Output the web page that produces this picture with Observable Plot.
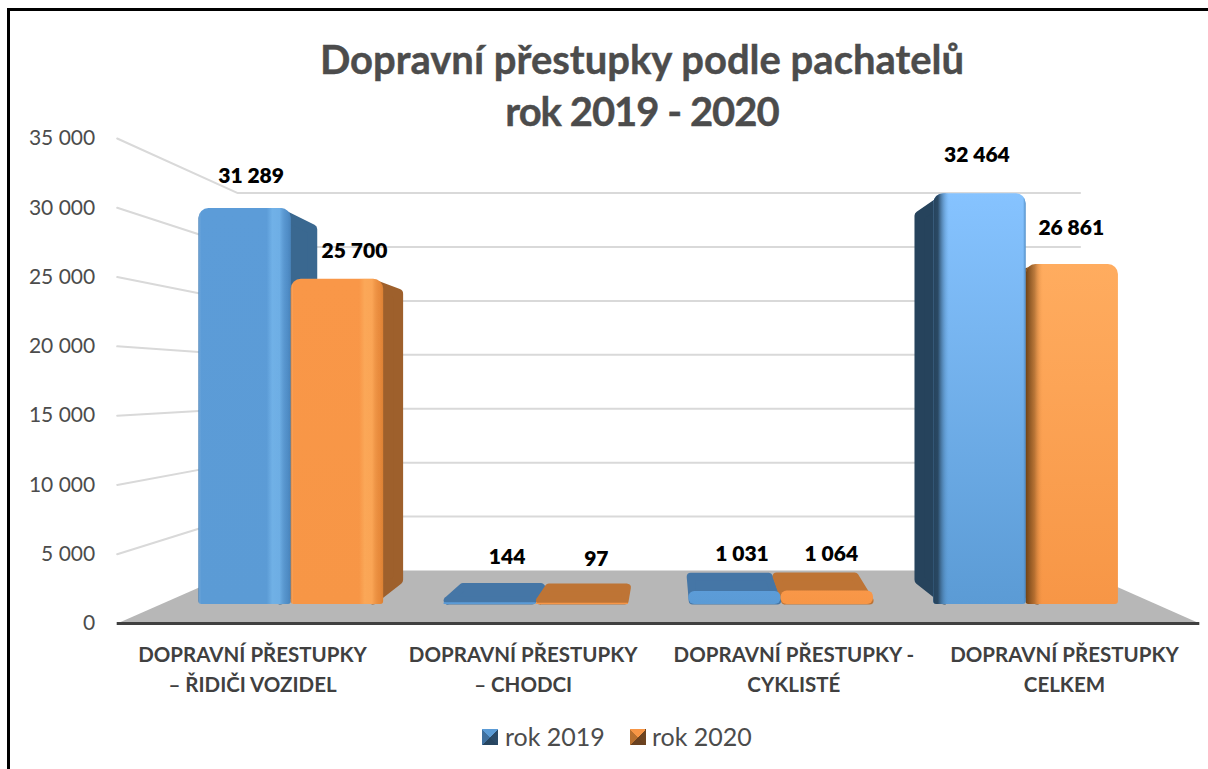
<!DOCTYPE html>
<html lang="cs">
<head>
<meta charset="utf-8">
<script src="https://cdn.jsdelivr.net/npm/d3@7"></script>
<script src="https://cdn.jsdelivr.net/npm/@observablehq/plot@0.6"></script>
<style>
  html, body { margin: 0; padding: 0; background: #fff; width: 1208px; height: 769px; overflow: hidden; font-family: Lato, sans-serif; }
  #frame { position: absolute; left: 7px; top: 8px; width: 1300px; height: 900px; border-left: 3px solid #000; border-top: 3px solid #000; }
  #title { position: absolute; left: 0; top: 33px; width: 1284px; text-align: center; font-weight: 700; font-size: 40px; line-height: 52px; color: #4c4c4c; -webkit-text-stroke: 0.4px #4c4c4c; }
  #title span { letter-spacing: -1px; }
  #chart { position: absolute; left: 0; top: 125px; }
  #legend { position: absolute; left: 0; top: 718px; width: 1208px; height: 36px; font-size: 25px; color: #4c4c4c; }
  #legend span { position: absolute; top: 0; line-height: 36px; white-space: nowrap; }
  #legend i { position: absolute; top: 11px; width: 16px; height: 16px; }
</style>
</head>
<body>
<div id="frame"></div>
<div id="title">Dopravní přestupky podle pachatelů<br><span>rok 2019 - 2020</span></div>
<div id="chart"></div>
<div id="legend">
  <i style="left:482px;background:conic-gradient(from 45deg,#2a4a68 0 25%,#274560 25% 50%,#3f6f9e 50% 75%,#5b9bd5 75%)"></i><span style="left:505px">rok 2019</span>
  <i style="left:630px;background:conic-gradient(from 45deg,#6e4420 0 25%,#6a4120 25% 50%,#b8702f 50% 75%,#f79646 75%)"></i><span style="left:652px">rok 2020</span>
</div>
<script>
const categories = ["DOPRAVNÍ PŘESTUPKY\n– ŘIDIČI VOZIDEL", "DOPRAVNÍ PŘESTUPKY\n– CHODCI", "DOPRAVNÍ PŘESTUPKY -\nCYKLISTÉ", "DOPRAVNÍ PŘESTUPKY\nCELKEM"];
const rok2019 = [31289, 144, 1031, 32464];
const rok2020 = [25700, 97, 1064, 26861];
const valueTicks = [0, 5000, 10000, 15000, 20000, 25000, 30000, 35000];

const fmt = (v) => d3.format(",")(v).replace(/,/g, " ");

// Perspective of the 3-D chart, in data units: the value axis is the front plane;
// bars and back wall recede toward one vanishing point.
const VX = 2.007, VY_WALL = 17247, VY_BAR = 15810;
const barSX = 0.905, barSY = 0.9133, wallS = 0.778, depthSX = 0.93, depthSY = 0.91;
const barWidth = 0.377;
const wall = (x, v) => ({x: VX + (x - VX) * wallS, y: VY_WALL + (v - VY_WALL) * wallS});
const front = (x, v) => ({x: VX + (x - VX) * barSX, y: VY_BAR + (v - VY_BAR) * barSY});
const back = (p) => ({x: VX + (p.x - VX) * depthSX, y: VY_WALL + (p.y - VY_WALL) * depthSY});

const bars = categories.flatMap((c, i) => [
  {i, s: 0, v: rok2019[i], a: i + 0.5 - barWidth, b: i + 0.5},
  {i, s: 1, v: rok2020[i], a: i + 0.5, b: i + 0.5 + barWidth}
]);

const topColor = ["#4576a6", "#be7435"];
const sideColor = (d) => d.i === 3 ? ["#26435c", "#7a4a1e"][d.s] : ["#3a6890", "#9e602c"][d.s];

function poly(points, fill, strokeWidth) {
  return Plot.line([...points, points[0]], {x: "x", y: "y", fill, stroke: fill, strokeWidth, strokeLinejoin: "round", curve: "linear"});
}

// Round corners come from a thick round-joined stroke, so the outlines are pulled in by half of it.
const padX = 0.018, padY = 360;
const faceMarks = bars.flatMap((d) => {
  const fa = front(d.a, 0), fb = front(d.b, 0), ta = front(d.a, d.v), tb = front(d.b, d.v);
  if (d.i === 1 || d.i === 2) {
    const px = padX * 0.8, py = padY * 0.8;
    const bta = back({x: ta.x, y: ta.y}), btb = back({x: tb.x, y: tb.y});
    return [poly([
      {x: ta.x + px, y: fa.y + py},
      {x: tb.x - px, y: fb.y + py},
      {x: btb.x - px, y: btb.y - py},
      {x: bta.x + px, y: bta.y - py}
    ], topColor[d.s], 8)];
  }
  const right = d.i === 0;
  const [et, eb] = right ? [tb, fb] : [ta, fa];
  const inward = right ? -1 : 1;
  const bt = back(et), bb = back(eb);
  return [poly([
    {x: et.x + inward * 0.04, y: et.y - padY},
    {x: bt.x + inward * padX, y: bt.y - padY},
    {x: bb.x + inward * padX, y: bb.y + padY},
    {x: eb.x + inward * 0.04, y: eb.y + padY}
  ], sideColor(d), 10)];
});

const rectOf = (d) => {
  const p = front(d.a, 0), q = front(d.b, d.v);
  return {x1: p.x, x2: q.x, y1: p.y, y2: q.y};
};
// y1 is the foot of the bar here, y2 its head.
const frontMark = (filter, fill, rTop = 10, rBottom = 3) => Plot.rect(bars.filter(filter).map(rectOf), {
  x1: "x1", x2: "x2", y1: "y1", y2: "y2", fill,
  rx1y2: rTop, rx2y2: rTop, rx1y1: rBottom, rx2y1: rBottom
});

const defs = () => {
  const el = document.createElementNS("http://www.w3.org/2000/svg", "defs");
  const h = (id, stops) => `<linearGradient id="${id}" x1="0" x2="1" y1="0" y2="0">${stops.map(([o, c, a]) => `<stop offset="${o}" stop-color="${c}" stop-opacity="${a}"/>`).join("")}</linearGradient>`;
  const v = (id, a, b) => `<linearGradient id="${id}" x1="0" x2="0" y1="0" y2="1"><stop offset="0" stop-color="${a}"/><stop offset="1" stop-color="${b}"/></linearGradient>`;
  el.innerHTML =
    v("blueBody", "#5c9cd8", "#5b9bd5") + v("orangeBody", "#f99748", "#f79646") +
    v("blueBright", "#86c3ff", "#5b9bd5") + v("orangeBright", "#ffac5f", "#f79646") +
    h("shadeRightB", [[0, "#2a5d8f", .5], [.025, "#fff", 0], [.74, "#8fd0ff", 0], [.8, "#8fd0ff", .4], [.88, "#8fd0ff", .35], [.96, "#2a5d8f", .2], [1, "#2a5d8f", .4]]) +
    h("shadeRightO", [[0, "#a85a10", .5], [.025, "#fff", 0], [.74, "#ffc070", 0], [.8, "#ffc070", .4], [.88, "#ffc070", .35], [.96, "#a85a10", .2], [1, "#a85a10", .35]]) +
    h("shadeLeftB", [[0, "#26435c", 1], [.05, "#26435c", .95], [.17, "#5b9bd5", 0], [.97, "#5b9bd5", 0], [1, "#3f78ad", .8]]) +
    h("shadeLeftO", [[0, "#6e4216", 1], [.1, "#6e4216", .45], [.19, "#f79646", 0], [1, "#f79646", 0]]);
  return el;
};

const labelShift = [[6, -32], [17, -28], [17, -45], [14, -44], [7, -37], [4, -37], [-3, -38], [-1, -36]];
const labelMarks = bars.map((d, k) => {
  const p = front((d.a + d.b) / 2, d.v);
  return Plot.text([{x: p.x, y: p.y, t: fmt(d.v)}], {x: "x", y: "y", text: "t", dx: labelShift[k][0], dy: labelShift[k][1], fontSize: 21, fontWeight: 800, fill: "#000", textAnchor: "middle"});
});

const floor = [wall(0, 0), wall(4, 0), {x: 4, y: 0}, {x: 0, y: 0}];

const plot = Plot.plot({
  width: 1208,
  height: 590,
  marginTop: 13,
  marginBottom: 92,
  marginLeft: 116.7,
  marginRight: 8.7,
  style: {fontFamily: "Lato, sans-serif", background: "transparent", overflow: "visible"},
  x: {domain: [0, 4], label: null},
  y: {domain: [0, 35000], label: null},
  marks: [
    defs,
    Plot.line([...floor, floor[0]], {x: "x", y: "y", fill: "#b7b7b7", stroke: "none"}),
    ...valueTicks.slice(1).map((v) => Plot.line([{x: 0, y: v}, wall(0, v), wall(4, v)], {x: "x", y: "y", stroke: "#d9d9d9", strokeWidth: 2})),
    Plot.ruleY([0], {stroke: "#404040", strokeWidth: 3}),
    ...faceMarks,
    frontMark((d) => d.i === 1 && d.s === 0, "url(#blueBody)", 1, 1),
    frontMark((d) => d.i === 1 && d.s === 1, "url(#orangeBody)", 1, 1),
    frontMark((d) => d.i === 2 && d.s === 0, "url(#blueBody)", 6, 6),
    frontMark((d) => d.i === 2 && d.s === 1, "url(#orangeBody)", 6, 6),
    frontMark((d) => d.i === 0 && d.s === 0, "url(#blueBody)"),
    frontMark((d) => d.i === 0 && d.s === 0, "url(#shadeRightB)"),
    frontMark((d) => d.i === 0 && d.s === 1, "url(#orangeBody)"),
    frontMark((d) => d.i === 0 && d.s === 1, "url(#shadeRightO)"),
    frontMark((d) => d.i === 3 && d.s === 1, "url(#orangeBright)"),
    frontMark((d) => d.i === 3 && d.s === 1, "url(#shadeLeftO)"),
    frontMark((d) => d.i === 3 && d.s === 0, "url(#blueBright)"),
    frontMark((d) => d.i === 3 && d.s === 0, "url(#shadeLeftB)"),
    ...labelMarks,
    Plot.axisY({ticks: valueTicks, tickFormat: fmt, tickSize: 0, tickPadding: 22, fontSize: 21, fill: "#4c4c4c", label: null}),
    Plot.axisX({ticks: [0.5, 1.5, 2.5, 3.5], tickFormat: (d) => categories[d - 0.5], tickSize: 0, tickPadding: 17, fontSize: 20.5, fontWeight: 700, fill: "#404040", lineHeight: 1.46, label: null})
  ]
});
document.getElementById("chart").append(plot);
</script>
</body>
</html>
